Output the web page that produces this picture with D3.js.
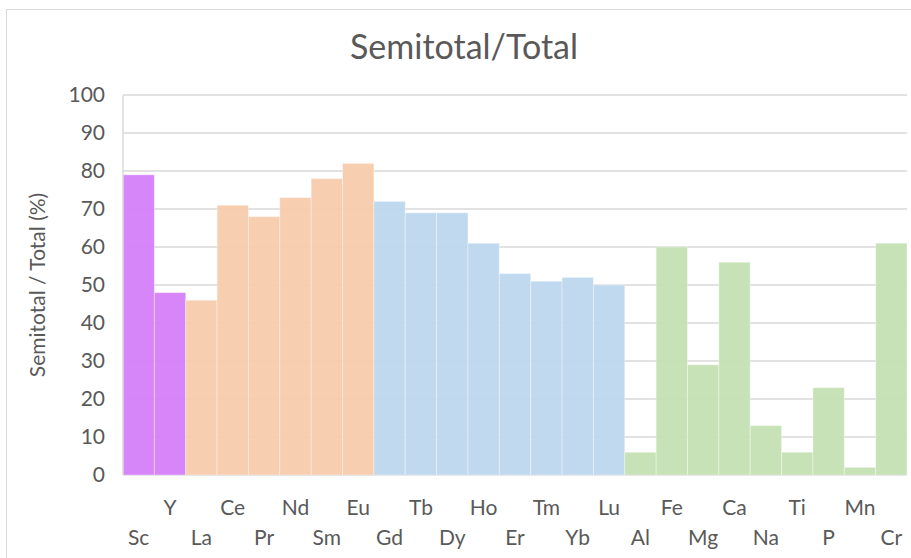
<!DOCTYPE html>
<html>
<head>
<meta charset="utf-8">
<script src="https://cdn.jsdelivr.net/npm/d3@7"></script>
<style>
  body { margin: 0; background: #fff; }
  text { font-family: Lato, "Open Sans", sans-serif; fill: #595959; }
</style>
</head>
<body>
<div class="chart"></div>
<script>
// ------------------------------------------------------------------
// Data
var elements = ["Sc","Y","La","Ce","Pr","Nd","Sm","Eu","Gd","Tb","Dy","Ho","Er","Tm","Yb","Lu",
                "Al","Fe","Mg","Ca","Na","Ti","P","Mn","Cr"];
var ratios   = [79,48,46,71,68,73,78,82,72,69,69,61,53,51,52,50,
                6,60,29,56,13,6,23,2,61];
var groups   = ["a","a","b","b","b","b","b","b","c","c","c","c","c","c","c","c",
                "d","d","d","d","d","d","d","d","d"];
var yTicks   = [0,10,20,30,40,50,60,70,80,90,100];

var groupColor = { a: "#d57ffa", b: "#f8cbad", c: "#bdd7ee", d: "#c5e0b4" };

// ------------------------------------------------------------------
var width = 911, height = 558;
var margin = { left: 123, right: 4, top: 95, bottom: 83 };

var svg = d3.select(".chart").append("svg")
  .attr("width", width)
  .attr("height", height);

// chart border
svg.append("rect")
  .attr("x", 6.5).attr("y", 9.5)
  .attr("width", width).attr("height", height)
  .attr("fill", "none")
  .attr("stroke", "#d9d9d9");

var x = d3.scaleBand()
  .domain(elements)
  .range([margin.left, width - margin.right])
  .padding(0);

var y = d3.scaleLinear()
  .domain([0, 100])
  .range([height - margin.bottom, margin.top]);

// gridlines
svg.append("g").selectAll("line")
  .data(yTicks)
  .enter().append("line")
  .attr("x1", margin.left)
  .attr("x2", width - margin.right)
  .attr("y1", function(d) { return y(d); })
  .attr("y2", function(d) { return y(d); })
  .attr("stroke", "#d9d9d9")
  .attr("stroke-width", 1.5);

// bars
svg.append("g").selectAll("rect")
  .data(elements)
  .enter().append("rect")
  .attr("x", function(d) { return x(d); })
  .attr("width", x.bandwidth())
  .attr("y", function(d, i) { return y(ratios[i]); })
  .attr("height", function(d, i) { return y(0) - y(ratios[i]); })
  .attr("fill", function(d, i) { return groupColor[groups[i]]; })
  .attr("fill-opacity", 0.95)
  .attr("stroke", "rgba(255,255,255,0.35)")
  .attr("stroke-width", 1);

// y axis line
svg.append("line")
  .attr("x1", margin.left).attr("x2", margin.left)
  .attr("y1", y(0)).attr("y2", y(100))
  .attr("stroke", "#d9d9d9")
  .attr("stroke-width", 1.5);

// y tick labels
svg.append("g").selectAll("text")
  .data(yTicks)
  .enter().append("text")
  .attr("x", 105)
  .attr("y", function(d) { return y(d); })
  .attr("dy", "0.35em")
  .attr("text-anchor", "end")
  .style("font-size", "21px")
  .text(function(d) { return d; });

// x labels, staggered in two rows
svg.append("g").selectAll("text")
  .data(elements)
  .enter().append("text")
  .attr("x", function(d) { return x(d) + x.bandwidth() / 2; })
  .attr("y", function(d, i) { return i % 2 == 1 ? 508 : 538; })
  .attr("dy", "0.35em")
  .attr("text-anchor", "middle")
  .style("font-size", "21px")
  .text(function(d) { return d; });

// y axis title
svg.append("text")
  .attr("transform", "translate(38," + (y(50)) + ") rotate(-90)")
  .attr("dy", "0.35em")
  .attr("text-anchor", "middle")
  .style("font-size", "21px")
  .text("Semitotal / Total (%)");

// title
svg.append("text")
  .attr("x", 464)
  .attr("y", 47)
  .attr("dy", "0.35em")
  .attr("text-anchor", "middle")
  .style("font-size", "34px")
  .text("Semitotal/Total");
</script>
</body>
</html>
